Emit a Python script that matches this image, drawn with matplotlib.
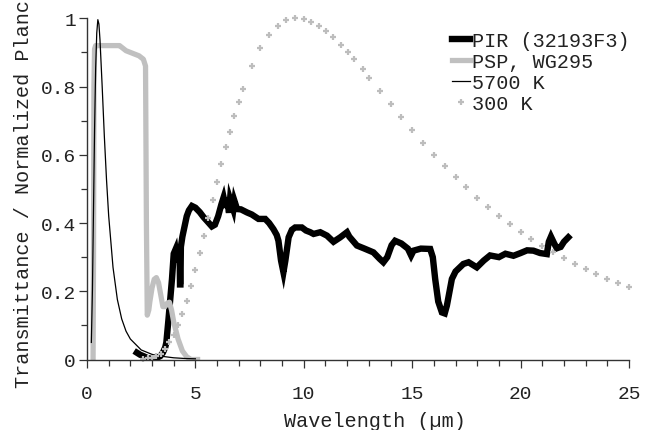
import matplotlib
matplotlib.use("Agg")
import matplotlib.pyplot as plt
from matplotlib.ticker import MultipleLocator, FixedLocator

plt.rcParams['font.family'] = ['Liberation Mono', 'DejaVu Sans Mono']
plt.rcParams['font.size'] = 14

# PIR (32193F3) transmittance
pir_wl = [2.30, 2.45, 2.60, 2.80, 3.00, 3.20, 3.38, 3.50, 3.61, 3.66, 3.76, 3.84,
          3.92, 4.00, 4.08, 4.15, 4.22, 4.27, 4.29, 4.31, 4.33, 4.40, 4.50, 4.60,
          4.70, 4.84, 5.00, 5.20, 5.38, 5.55, 5.76, 5.90, 6.05, 6.20, 6.30, 6.40,
          6.45, 6.55, 6.60, 6.75, 6.80, 6.92, 7.10, 7.38, 7.60, 7.91, 8.22, 8.40,
          8.60, 8.75, 8.83, 8.95, 9.06, 9.15, 9.30, 9.45, 9.60, 9.91, 10.10, 10.30,
          10.45, 10.76, 11.07, 11.37, 11.68, 11.99, 12.10, 12.45, 12.80, 13.21, 13.50,
          13.67, 13.85, 14.05, 14.21, 14.50, 14.80, 14.95, 15.06, 15.40, 15.83, 15.95,
          16.06, 16.20, 16.37, 16.50, 16.60, 16.83, 17.00, 17.36, 17.60, 17.98, 18.30,
          18.59, 19.00, 19.30, 19.67, 20.00, 20.30, 20.59, 20.90, 21.21, 21.30, 21.40,
          21.55, 21.67, 21.85, 22.00, 22.20]
pir_val = [0.020, 0.014, 0.010, 0.004, 0.002, 0.004, 0.010, 0.020, 0.036, 0.050, 0.119, 0.177,
           0.236, 0.310, 0.322, 0.285, 0.325, 0.325, 0.220, 0.220, 0.330, 0.360, 0.390, 0.420,
           0.437, 0.450, 0.445, 0.432, 0.417, 0.405, 0.390, 0.395, 0.420, 0.455, 0.475, 0.445,
           0.475, 0.430, 0.470, 0.440, 0.465, 0.441, 0.440, 0.431, 0.425, 0.412, 0.412, 0.400,
           0.382, 0.365, 0.348, 0.290, 0.256, 0.290, 0.358, 0.380, 0.387, 0.387, 0.378, 0.373,
           0.368, 0.373, 0.363, 0.345, 0.358, 0.373, 0.360, 0.334, 0.325, 0.314, 0.295,
           0.285, 0.300, 0.335, 0.348, 0.340, 0.325, 0.305, 0.319, 0.325, 0.324, 0.300,
           0.236, 0.170, 0.138, 0.135, 0.158, 0.236, 0.258, 0.280, 0.285, 0.270, 0.290,
           0.305, 0.300, 0.310, 0.304, 0.312, 0.320, 0.319, 0.312, 0.309, 0.345, 0.360,
           0.340, 0.326, 0.330, 0.345, 0.358]

# PSP, WG295 transmittance
psp_wl = [0.28, 0.30, 0.32, 0.35, 0.40, 0.60, 1.00, 1.50, 1.60, 1.80, 2.00, 2.20, 2.40,
          2.60, 2.70, 2.74, 2.78, 2.85, 2.90, 3.00, 3.10, 3.20, 3.30, 3.40, 3.50, 3.60,
          3.70, 3.80, 3.90, 4.00, 4.20, 4.40, 4.60, 4.80, 5.00, 5.10]
psp_val = [0.0, 0.30, 0.80, 0.91, 0.92, 0.92, 0.92, 0.92, 0.915, 0.905, 0.90, 0.895, 0.89,
           0.88, 0.86, 0.40, 0.13, 0.145, 0.17, 0.21, 0.235, 0.24, 0.225, 0.19, 0.155, 0.155,
           0.165, 0.168, 0.145, 0.11, 0.06, 0.025, 0.008, 0.0, 0.0, 0.0]

# normalized 5700 K blackbody
bb5700_wl = [0.20, 0.25, 0.30, 0.35, 0.40, 0.45, 0.50, 0.55, 0.60, 0.70, 0.80, 0.90, 1.00,
             1.20, 1.40, 1.60, 1.80, 2.00, 2.50, 3.00, 3.50, 4.00, 4.50, 5.00]
bb5700_val = [0.050, 0.202, 0.441, 0.677, 0.855, 0.957, 0.996, 0.983, 0.936, 0.800, 0.654,
              0.527, 0.421, 0.270, 0.176, 0.119, 0.083, 0.060, 0.028, 0.015, 0.009, 0.005,
              0.003, 0.002]

# normalized 300 K blackbody
bb300_wl = [2.6, 2.8, 3.0, 3.2, 3.4, 3.6, 3.8, 4.0, 4.2, 4.4, 4.6, 4.8, 5.0, 5.2, 5.4, 5.6,
            5.8, 6.0, 6.2, 6.4, 6.6, 6.8, 7.0, 7.2, 7.6, 8.0, 8.4, 8.8, 9.2, 9.6, 10.0, 10.33,
            10.71, 11.02, 11.34, 11.72, 12.02, 12.31, 12.71, 13.02, 13.52, 14.02, 14.5, 15.0,
            15.5, 16.0, 16.5, 17.0, 17.5, 18.0, 18.5, 19.0, 19.5, 20.0, 20.5, 21.0, 21.5,
            22.0, 22.5, 23.0, 23.5, 24.0, 24.5, 25.0]
bb300_val = [0.001, 0.003, 0.005, 0.009, 0.016, 0.031, 0.050, 0.073, 0.102, 0.134, 0.172,
             0.215, 0.263, 0.311, 0.362, 0.415, 0.467, 0.520, 0.572, 0.622, 0.668, 0.713,
             0.755, 0.793, 0.859, 0.912, 0.952, 0.978, 0.994, 1.0, 0.998, 0.990, 0.977,
             0.962, 0.945, 0.923, 0.901, 0.880, 0.850, 0.826, 0.788, 0.748, 0.710, 0.672,
             0.635, 0.600, 0.567, 0.534, 0.505, 0.473, 0.447, 0.421, 0.396, 0.374, 0.353,
             0.333, 0.314, 0.297, 0.280, 0.264, 0.250, 0.236, 0.223, 0.212]

ytick_vals = [0, 0.2, 0.4, 0.6, 0.8, 1]
ytick_labels = ['0', '0.2', '0.4', '0.6', '0.8', '1']

fig = plt.figure(figsize=(6.53, 4.31), dpi=100)
ax = fig.add_axes([87 / 653, 70.5 / 431, 542 / 653, 341.2 / 431])

ax.plot(pir_wl, pir_val, color='black', linewidth=4.6, solid_joinstyle='miter',
        label='PIR (32193F3)')
ax.plot(psp_wl, psp_val, color='#c0c0c0', linewidth=3.8, label='PSP, WG295')
ax.plot(bb5700_wl, bb5700_val, color='black', linewidth=0.9, label='5700 K')
ax.plot(bb300_wl, bb300_val, linestyle='none', marker='+', markersize=5,
        markeredgewidth=1.6, color='#bdbdbd', clip_on=False, label='300 K')

ax.set_xlim(0, 25)
ax.set_ylim(0, 1)

ax.xaxis.set_major_locator(MultipleLocator(5))
ax.xaxis.set_minor_locator(MultipleLocator(1))
ax.yaxis.set_major_locator(FixedLocator(ytick_vals))
ax.set_yticklabels(ytick_labels)
ax.yaxis.set_minor_locator(MultipleLocator(0.1))

for s in ['top', 'right']:
    ax.spines[s].set_visible(False)
for s in ['left', 'bottom']:
    ax.spines[s].set_color('#333333')
    ax.spines[s].set_linewidth(1.0)

ax.tick_params(axis='both', which='both', direction='out', color='#333333',
               width=0.9, labelcolor='#222222', labelsize=14)
ax.tick_params(axis='x', which='major', length=6, pad=12.5)
ax.tick_params(axis='x', which='minor', length=4.5)
ax.tick_params(axis='y', which='major', length=6, pad=2)
ax.tick_params(axis='y', which='minor', length=4.5)

ax.set_xlabel('Wavelength (µm)', color='#222222', fontsize=14.5)
ax.xaxis.label.set_va('center')
ax.xaxis.set_label_coords(0.531, -0.18)

# the long label runs past the top edge, as in the original figure
ax.set_ylabel('Transmittance / Normalized Planck', color='#222222', fontsize=14.5)
ax.yaxis.label.set_va('center')
ax.yaxis.set_label_coords(-0.118, 0.505)

leg = ax.legend(loc='upper left', bbox_to_anchor=(0.673, 0.962), frameon=False,
                fontsize=14.5, handlelength=0.9, handletextpad=0.1, labelspacing=0.1,
                borderaxespad=0.0, borderpad=0.0)
for t in leg.get_texts():
    t.set_color('#222222')

fig.savefig('out.png', dpi=100)
